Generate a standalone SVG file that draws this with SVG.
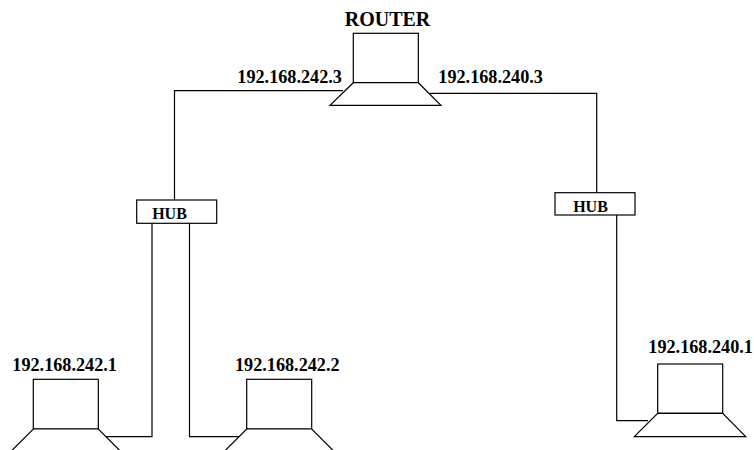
<svg xmlns="http://www.w3.org/2000/svg" width="754" height="450" viewBox="0 0 754 450">
<style>
.s{fill:#fff;stroke:#000;stroke-width:1.2}
.c{fill:none;stroke:#000;stroke-width:1.2}
.t{font-family:"Liberation Serif",serif;font-weight:bold;fill:#000}
.ip{font-size:18.2px}
.hub{font-size:16px}
</style>
<rect width="754" height="450" fill="#fff"/>
<g id="connectors">
<polyline class="c" points="343,90.7 174.5,90.7 174.5,200"/>
<polyline class="c" points="430,93.3 596.7,93.3 596.7,192.7"/>
<polyline class="c" points="152,223.3 152,436.7 106,436.7"/>
<polyline class="c" points="189.5,223.3 189.5,436.7 239.5,436.7"/>
<polyline class="c" points="616.7,215 616.7,420.7 648,420.7"/>
</g>
<g id="router">
<rect class="s" x="353.3" y="33.3" width="65" height="49.4"/>
<polygon class="s" points="353.3,82.7 418.3,82.7 441,105.3 330,105.3"/>
<text class="t" x="387.5" y="25.7" text-anchor="middle" font-size="20">ROUTER</text>
</g>
<text class="t ip" x="237.3" y="83.3">192.168.242.3</text>
<text class="t ip" x="438.3" y="83">192.168.240.3</text>
<g id="hub-left">
<rect class="s" x="136.7" y="200" width="80" height="23.3"/>
<text class="t hub" x="169.5" y="219.3" text-anchor="middle">HUB</text>
</g>
<g id="hub-right">
<rect class="s" x="555" y="192.7" width="80" height="22.3"/>
<text class="t hub" x="590.5" y="211.5" text-anchor="middle">HUB</text>
</g>
<g id="pc-242-1">
<rect class="s" x="33.3" y="379.3" width="65" height="49.7"/>
<polygon class="s" points="33.3,429 98.3,429 121,451.7 10.6,451.7"/>
<text class="t ip" x="12.3" y="370.7">192.168.242.1</text>
</g>
<g id="pc-242-2">
<rect class="s" x="246.7" y="379.3" width="65" height="49.7"/>
<polygon class="s" points="246.7,429 311.7,429 334.4,451.7 224,451.7"/>
<text class="t ip" x="235" y="370.7">192.168.242.2</text>
</g>
<g id="pc-240-1">
<rect class="s" x="657.7" y="364" width="65" height="49.3"/>
<polygon class="s" points="657.7,413.3 722.7,413.3 745.7,436.7 634.3,436.7"/>
<text class="t ip" x="648.3" y="352.7">192.168.240.1</text>
</g>
</svg>
